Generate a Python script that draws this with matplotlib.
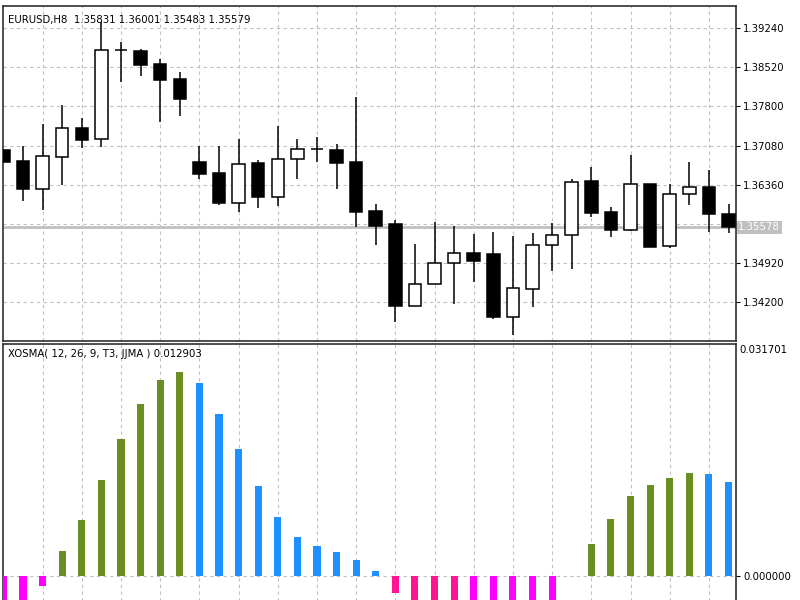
import numpy as np
import matplotlib
matplotlib.use("Agg")
import matplotlib.pyplot as plt

# EURUSD H8 candles
opens = [1.36999, 1.36797, 1.36288, 1.36876, 1.37409, 1.37196, 1.38840, 1.38818, 1.38573, 1.38303,
         1.36773, 1.36571, 1.36020, 1.36755, 1.36130, 1.36828, 1.37015, 1.36999, 1.36773, 1.35878,
         1.35634, 1.34133, 1.34538, 1.34918, 1.35101, 1.35083, 1.33926, 1.34446, 1.35254, 1.35432,
         1.36435, 1.35855, 1.35524, 1.36369, 1.35230, 1.36185, 1.36319, 1.35831]
highs = [1.37017, 1.37072, 1.37471, 1.37831, 1.37592, 1.39350, 1.38988, 1.38849, 1.38665, 1.38437,
         1.37072, 1.37072, 1.37201, 1.36815, 1.37445, 1.37201, 1.37232, 1.37109, 1.37967, 1.36007,
         1.35713, 1.35267, 1.35671, 1.35603, 1.35450, 1.35498, 1.35419, 1.35469, 1.35653, 1.36461,
         1.36692, 1.35946, 1.36907, 1.36375, 1.36369, 1.36779, 1.36632, 1.36001]
lows = [1.36760, 1.36062, 1.35897, 1.36356, 1.37030, 1.37060, 1.38254, 1.38358, 1.37519, 1.37629,
        1.36461, 1.35989, 1.35860, 1.35928, 1.35970, 1.36461, 1.36784, 1.36283, 1.35579, 1.35248,
        1.33834, 1.34124, 1.34529, 1.34170, 1.34574, 1.33889, 1.33601, 1.34121, 1.34782, 1.34808,
        1.35774, 1.35406, 1.35511, 1.35212, 1.35193, 1.35989, 1.35498, 1.35483]
closes = [1.36784, 1.36283, 1.36889, 1.37398, 1.37183, 1.38836, 1.38836, 1.38560, 1.38285, 1.37930,
          1.36558, 1.36020, 1.36747, 1.36130, 1.36834, 1.37017, 1.37012, 1.36755, 1.35860, 1.35608,
          1.34133, 1.34538, 1.34918, 1.35101, 1.34960, 1.33926, 1.34459, 1.35259, 1.35438, 1.36406,
          1.35836, 1.35524, 1.36369, 1.35223, 1.36185, 1.36319, 1.35818, 1.35579]

# XOSMA histogram values
xosma = [-0.0088, -0.0056, -0.00137, 0.00334, 0.00768, 0.01308, 0.01866, 0.02351, 0.02672, 0.02790,
         0.02639, 0.02219, 0.01729, 0.01226, 0.00805, 0.00531, 0.00402, 0.00320, 0.00220, 0.00069,
         -0.00238, -0.0062, -0.0092, -0.0108, -0.0104, -0.0093, -0.0078, -0.0062, -0.0045, 0.0,
         0.00435, 0.00782, 0.01088, 0.01239, 0.01341, 0.01409, 0.01390, 0.012903]

price_ticks = [1.34200, 1.34920, 1.35640, 1.36360, 1.37080, 1.37800, 1.38520, 1.39240]
bid = 1.35578
title_main = "EURUSD,H8  1.35831 1.36001 1.35483 1.35579"
title_ind = "XOSMA( 12, 26, 9, T3, JJMA ) 0.012903"
ind_max = 0.031701

plt.rcParams['font.family'] = ['DejaVu Sans']
fs = 7.3
grid_col = '#c0c0c0'

fig = plt.figure(figsize=(8, 6), dpi=100)
fig.patch.set_facecolor('white')

x = np.arange(len(opens))
xlim = (-0.02, 37.38)

# --- price panel ---
ax1 = fig.add_axes([3 / 800, 1 - 341 / 600, 733 / 800, 335.5 / 600])
ax1.set_xlim(*xlim)
ax1.set_ylim(1.33490, 1.39653)

ax1.vlines(x, lows, highs, color='black', lw=1.1, zorder=3)
o = np.array(opens)
c = np.array(closes)
bull = c > o
bottoms = np.minimum(o, c)
heights = np.abs(c - o)
ax1.bar(x, heights, bottom=bottoms, width=0.64,
        color=np.where(bull, 'white', 'black'), edgecolor='black', lw=1.1, zorder=4)

ax1.axhline(bid, color='#c0c0c0', lw=2, zorder=2)

ax1.set_xticks(x[2::2])
ax1.set_yticks(price_ticks)
ax1.set_yticklabels(['' if abs(t - 1.35640) < 1e-6 else f"{t:.5f}" for t in price_ticks])
ax1.grid(True, color=grid_col, ls=(0, (3, 3)), lw=0.8, zorder=0)
ax1.yaxis.tick_right()
ax1.tick_params(axis='y', direction='out', length=3, width=0.8, labelsize=fs, pad=2)
ax1.tick_params(axis='x', length=0, labelbottom=False)
for s in ax1.spines.values():
    s.set_color('#303030')
    s.set_linewidth(1.2)

ax1.text(1.003, bid, f"{bid:.5f}", transform=ax1.get_yaxis_transform(),
         ha='left', va='center', fontsize=fs, color='white',
         bbox=dict(boxstyle='square,pad=0.15', fc='#c0c0c0', ec='none'))
ax1.text(5 / 733, 1 - 9 / 335.5, title_main, transform=ax1.transAxes,
         ha='left', va='top', fontsize=fs, color='black')

# --- indicator panel ---
ax2 = fig.add_axes([3 / 800, -5 / 600, 733 / 800, 261 / 600])
ax2.set_xlim(*xlim)
ax2.set_ylim(-0.00398, ind_max)

cols = []
for i, v in enumerate(xosma):
    rising = i == 0 or v > xosma[i - 1]
    if v >= 0:
        cols.append('#6b8e23' if rising else '#1e90ff')
    else:
        cols.append('#ff00ff' if rising else '#ff1493')
ax2.bar(x, xosma, width=0.36, color=cols, zorder=3)

ax2.set_xticks(x[2::2])
ax2.set_yticks([0.0])
ax2.set_yticklabels(["0.000000"])
ax2.grid(True, axis='x', color=grid_col, ls=(0, (3, 3)), lw=0.8, zorder=0)
ax2.axhline(0, color=grid_col, ls=(0, (3, 3)), lw=0.8, zorder=1)
ax2.yaxis.tick_right()
ax2.tick_params(axis='y', direction='out', length=3, width=0.8, labelsize=fs, pad=2)
ax2.tick_params(axis='x', length=0, labelbottom=False)
for s in ax2.spines.values():
    s.set_color('#303030')
    s.set_linewidth(1.2)
ax2.spines['bottom'].set_visible(False)

ax2.text(1.004, 1 - 1 / 261, f"{ind_max:.6f}", transform=ax2.transAxes,
         ha='left', va='top', fontsize=fs, color='black')
ax2.text(5 / 733, 1 - 5 / 261, title_ind, transform=ax2.transAxes,
         ha='left', va='top', fontsize=fs, color='black')

fig.savefig('out.png', dpi=100)
